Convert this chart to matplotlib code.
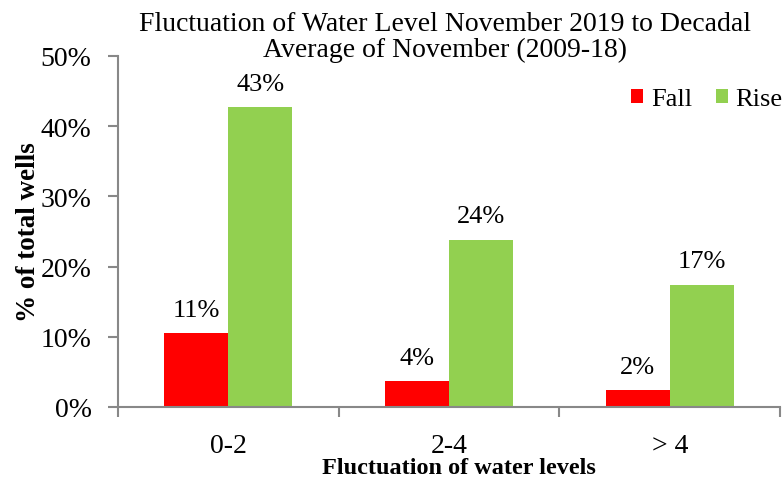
import matplotlib.pyplot as plt
import numpy as np

plt.rcParams['font.family'] = ['Liberation Serif', 'DejaVu Serif']

# fluctuation ranges (m) and share of wells (%)
ranges = ['0-2', '2-4', '> 4']
fall = [10.5, 3.7, 2.4]
rise = [42.7, 23.8, 17.4]
fall_lbl = ['11%', '4%', '2%']
rise_lbl = ['43%', '24%', '17%']

fig = plt.figure(figsize=(7.84, 4.81), dpi=100)
ax = fig.add_axes([0.1505, 0.1518, 0.8445, 0.7297])

x = np.arange(len(ranges))
w = 0.29
b1 = ax.bar(x - w / 2, fall, w, color='#ff0000', label='Fall')
b2 = ax.bar(x + w / 2, rise, w, color='#92d050', label='Rise')

for bars, labels in ((b1, fall_lbl), (b2, rise_lbl)):
    for rect, s in zip(bars, labels):
        ax.annotate(s, (rect.get_x() + rect.get_width() / 2, rect.get_height()),
                    xytext=(0, 9), textcoords='offset points',
                    ha='center', va='bottom', fontsize=19)

ax.set_xlim(-0.5, 2.5)
ax.set_ylim(0, 50)
ax.set_yticks(range(0, 51, 10))
ax.set_yticklabels([f'{v}%' for v in range(0, 51, 10)], fontsize=20)
ax.set_xticks(x)
ax.set_xticklabels(ranges, fontsize=20)
ax.tick_params(axis='x', length=0, pad=19)
ax.set_xticks([-0.5, 0.5, 1.5, 2.5], minor=True)
ax.tick_params(axis='x', which='minor', length=7, color='#888888', width=1.5)
ax.tick_params(axis='y', length=7, color='#888888', width=1.5, pad=12)

for side in ('top', 'right'):
    ax.spines[side].set_visible(False)
for side in ('left', 'bottom'):
    ax.spines[side].set_color('#888888')
    ax.spines[side].set_linewidth(1.5)

ax.set_ylabel('% of total wells', fontsize=19.5, fontweight='bold')
ax.yaxis.set_label_coords(-0.117, 0.5)
ax.set_xlabel('Fluctuation of water levels', fontsize=17.5, fontweight='bold')
ax.xaxis.set_label_coords(0.515, -0.142)

fig.text(0.5676, 0.922,
         'Fluctuation of Water Level November 2019 to Decadal\nAverage of November (2009-18)',
         ha='center', va='center', fontsize=20, linespacing=1.05)

fig.legend(handles=[b1, b2], loc='upper left', bbox_to_anchor=(631 / 784, 1 - 89 / 481),
           ncol=2, frameon=False, fontsize=19, borderpad=0, borderaxespad=0,
           handlelength=0.45, handleheight=0.45, handletextpad=0.3, columnspacing=0.9)

fig.savefig('out.png', dpi=100)
